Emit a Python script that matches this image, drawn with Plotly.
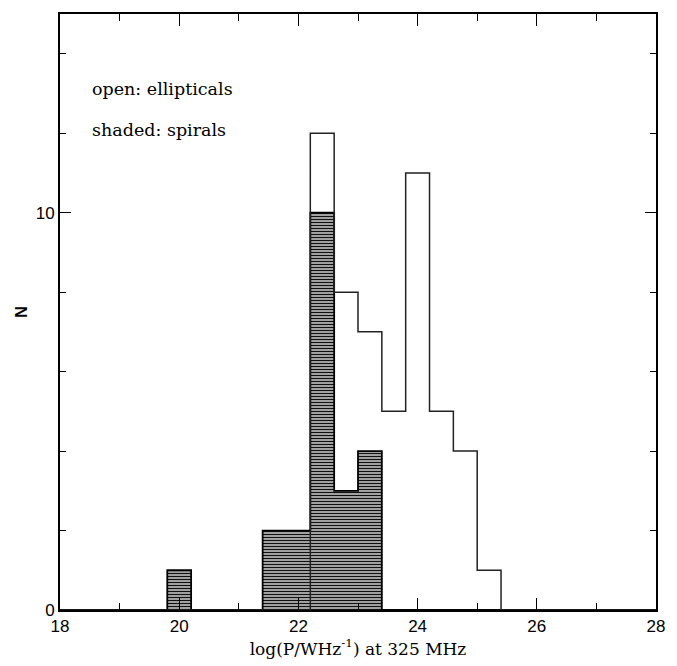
import plotly.graph_objects as go

# Data
bin_width = 0.4
spiral_centers = [20.0, 21.6, 22.0, 22.4, 22.8, 23.2]
spiral_counts = [1, 2, 2, 10, 3, 4]

ellip_edges = [18.0, 22.2, 22.6, 23.0, 23.4, 23.8, 24.2, 24.6, 25.0, 25.4, 28.0]
ellip_counts = [0, 12, 8, 7, 5, 11, 5, 4, 1, 0, 0]

spiral_edges = [18.0, 19.8, 20.2, 21.4, 21.8, 22.2, 22.6, 23.0, 23.4, 28.0]
spiral_step = [0, 1, 0, 2, 2, 10, 3, 4, 0, 0]

fig = go.Figure()

fig.add_trace(go.Bar(
    x=spiral_centers, y=spiral_counts, width=bin_width,
    marker=dict(color="white", line=dict(width=0),
                pattern=dict(shape="-", fgcolor="#111111", bgcolor="#ffffff",
                             fgopacity=1, size=3, solidity=0.6)),
    showlegend=False, hoverinfo="skip"))

fig.add_trace(go.Scatter(
    x=spiral_edges, y=spiral_step, mode="lines", line_shape="hv",
    line=dict(color="black", width=1.8), showlegend=False))

fig.add_trace(go.Scatter(
    x=ellip_edges, y=ellip_counts, mode="lines", line_shape="hv",
    line=dict(color="#222222", width=1.5), showlegend=False))

fig.add_annotation(x=18.5, y=13.1, text="open: ellipticals", showarrow=False,
                   xanchor="left", yanchor="middle",
                   font=dict(family="DejaVu Serif", size=17.5, color="black"))
fig.add_annotation(x=18.5, y=12.07, text="shaded: spirals", showarrow=False,
                   xanchor="left", yanchor="middle",
                   font=dict(family="DejaVu Serif", size=17.5, color="black"))

axis_common = dict(showline=True, linecolor="black", linewidth=2, mirror="ticks",
                   ticks="inside", tickcolor="black", tickwidth=1.2,
                   showgrid=False, zeroline=False,
                   tickfont=dict(family="Liberation Sans", size=17, color="black"))

fig.update_xaxes(range=[18, 28], tick0=18, dtick=2, ticklen=12,
                 minor=dict(dtick=1, ticks="inside", ticklen=7, tickcolor="black", showgrid=False),
                 title=dict(text="log(P/WHz<sup>-1</sup>) at 325 MHz",
                            font=dict(family="DejaVu Serif", size=17, color="black"),
                            standoff=6),
                 **axis_common)
fig.update_yaxes(range=[0, 15], tick0=0, dtick=10, ticklen=11,
                 minor=dict(dtick=2, ticks="inside", ticklen=6, tickcolor="black", showgrid=False),
                 title=dict(text="<b>N</b>", font=dict(family="Liberation Sans", size=16, color="black"),
                            standoff=4),
                 **axis_common)

fig.update_layout(width=677, height=666, margin=dict(l=60, r=15, t=12, b=55),
                  plot_bgcolor="white", paper_bgcolor="white", bargap=0)

fig.write_html("out.html")
